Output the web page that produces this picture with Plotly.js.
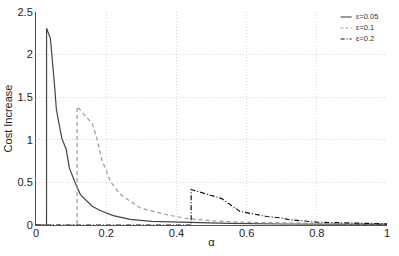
<!DOCTYPE html>
<html>
<head>
<meta charset="utf-8">
<script src="https://cdn.plot.ly/plotly-3.0.1.min.js"></script>
<style>html,body{margin:0;padding:0;background:#fff;}#chart{width:399px;height:256px;}</style>
</head>
<body>
<div id="chart"></div>
<script>
// ε = 0.05
const alpha1 = [0, 0.030, 0.0301, 0.041, 0.053, 0.058, 0.065, 0.074, 0.086, 0.095, 0.110, 0.126, 0.160, 0.183, 0.22, 0.268, 0.33, 0.44, 0.55, 0.7, 0.85, 1.0];
const cost1  = [0, 0, 2.31, 2.19, 1.63, 1.36, 1.20, 1.01, 0.89, 0.67, 0.51, 0.36, 0.22, 0.17, 0.11, 0.065, 0.042, 0.026, 0.018, 0.012, 0.009, 0.007];
// ε = 0.1
const alpha2 = [0, 0.117, 0.1171, 0.160, 0.172, 0.188, 0.212, 0.24, 0.297, 0.373, 0.433, 0.50, 0.58, 0.7, 0.85, 1.0];
const cost2  = [0, 0, 1.39, 1.19, 1.04, 0.76, 0.51, 0.36, 0.20, 0.12, 0.075, 0.05, 0.033, 0.022, 0.015, 0.011];
// ε = 0.2
const alpha3 = [0, 0.442, 0.4421, 0.529, 0.581, 0.657, 0.695, 0.718, 0.80, 0.9, 1.0];
const cost3  = [0, 0, 0.417, 0.31, 0.16, 0.10, 0.085, 0.065, 0.033, 0.02, 0.014];
const seriesNames = ['ε=0.05', 'ε=0.1', 'ε=0.2'];

const colors = ['#444444', '#999999', '#111111'];
const dashes = ['solid', '3px,2px', '4px,2px,1px,2px'];

const traces = [
  {x: alpha1, y: cost1, name: seriesNames[0], mode: 'lines', line: {color: colors[0], width: 1.2, dash: dashes[0]}},
  {x: alpha2, y: cost2, name: seriesNames[1], mode: 'lines', line: {color: colors[1], width: 1.2, dash: '4px,3px'}},
  {x: alpha3, y: cost3, name: seriesNames[2], mode: 'lines', line: {color: colors[2], width: 1.2, dash: '5px,2px,1px,2px'}}
];

// manual compact legend (paper coordinates of the plot area)
const L = 35.5, W = 352, B = 225.5, H = 213.5;
const px = v => (v - L) / W, py = v => (B - v) / H;
const rows = [17, 28, 39];
const shapes = [], annotations = [];
shapes.push({type: 'rect', xref: 'paper', yref: 'paper', x0: px(338), x1: px(380), y0: py(45), y1: py(12.5),
             fillcolor: '#fff', line: {width: 0}, layer: 'above'});
seriesNames.forEach((n, i) => {
  shapes.push({type: 'line', xref: 'paper', yref: 'paper', x0: px(341), x1: px(352), y0: py(rows[i]), y1: py(rows[i]),
               line: {color: colors[i], width: 1.1, dash: dashes[i]}, layer: 'above'});
  annotations.push({xref: 'paper', yref: 'paper', x: px(354), y: py(rows[i]), xanchor: 'left', yanchor: 'middle',
                    text: n, showarrow: false, font: {size: 7.5, color: '#333'}});
});

const layout = {
  width: 399, height: 256,
  margin: {l: 35.5, r: 11.5, t: 12, b: 30.5},
  paper_bgcolor: '#fff', plot_bgcolor: '#fff',
  font: {family: 'Liberation Sans, Arial, sans-serif', size: 11, color: '#222'},
  showlegend: false,
  shapes: shapes,
  annotations: annotations,
  xaxis: {
    range: [0, 1], tickvals: [0, 0.2, 0.4, 0.6, 0.8, 1], ticktext: ['0', '0.2', '0.4', '0.6', '0.8', '1'],
    showgrid: true, gridcolor: '#d8d8d8', griddash: '1px,2px', gridwidth: 1,
    showline: true, linecolor: '#555', linewidth: 1, zeroline: false,
    ticks: '', ticklen: 0, ticklabelstandoff: -2,
    title: {text: 'α', font: {size: 11}, standoff: 0}
  },
  yaxis: {
    range: [0, 2.5], tickvals: [0, 0.5, 1, 1.5, 2, 2.5], ticktext: ['0', '0.5', '1', '1.5', '2', '2.5'],
    showgrid: true, gridcolor: '#d8d8d8', griddash: '1px,2px', gridwidth: 1,
    showline: true, linecolor: '#555', linewidth: 1, zeroline: false,
    ticks: '', ticklen: 0,
    title: {text: 'Cost Increase', font: {size: 11}, standoff: 2}
  }
};

Plotly.newPlot('chart', traces, layout, {staticPlot: true, displayModeBar: false});
</script>
</body>
</html>
